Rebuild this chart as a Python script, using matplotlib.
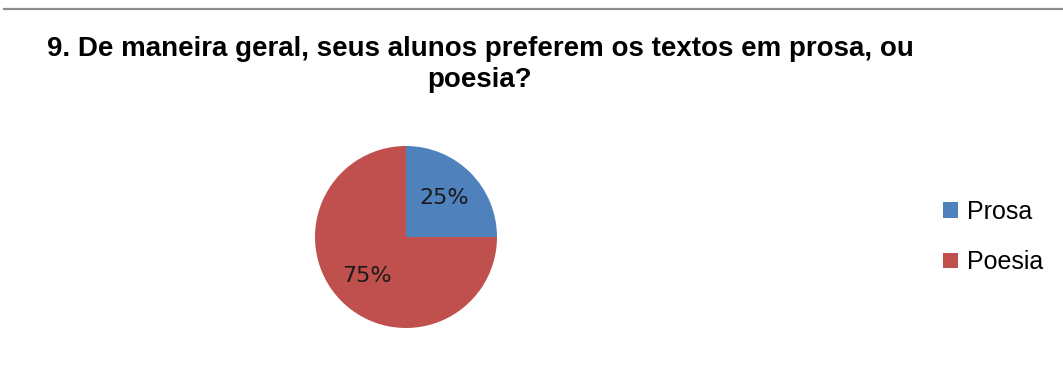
import matplotlib.pyplot as plt
from matplotlib.lines import Line2D

categories = ['Prosa', 'Poesia']
values = [25, 75]
colors = ['#4F81BD', '#C0504D']
title = '9. De maneira geral, seus alunos preferem os textos em prosa, ou\npoesia?'

W, H = 1063, 365
fig = plt.figure(figsize=(W / 100, H / 100), dpi=100)

# thin gray rule at the top
fig.add_artist(Line2D([4 / W, 1], [1 - 9 / H, 1 - 9 / H], color='#8c8c8c', lw=1.6))

# baseline of the last title line
fig.text(480 / W, 1 - 87 / H, title, ha='center', va='baseline',
         fontsize=20, fontweight='bold', family='Liberation Sans', linespacing=1.25)

# pie axes: center (406, 237), radius 91 px
cx, cy, r = 406, 237, 91
ax = fig.add_axes([(cx - r) / W, (H - cy - r) / H, 2 * r / W, 2 * r / H])
wedges, texts, autotexts = ax.pie(values, colors=colors, startangle=90, counterclock=False,
                                  autopct='%1.0f%%', pctdistance=0.6, radius=1,
                                  textprops=dict(fontsize=16, color='#1a1a1a', family='DejaVu Sans'))
ax.set_xlim(-1, 1)
ax.set_ylim(-1, 1)
ax.set_aspect('equal')
ax.axis('off')

fig.legend(wedges, categories, loc='center left', bbox_to_anchor=(943 / W, 1 - 237 / H),
           frameon=False, borderpad=0, borderaxespad=0,
           handlelength=0.58, handleheight=0.58, handletextpad=0.38,
           labelspacing=1.05, prop=dict(family='Liberation Sans', size=18))

fig.savefig('out.png', dpi=100)
